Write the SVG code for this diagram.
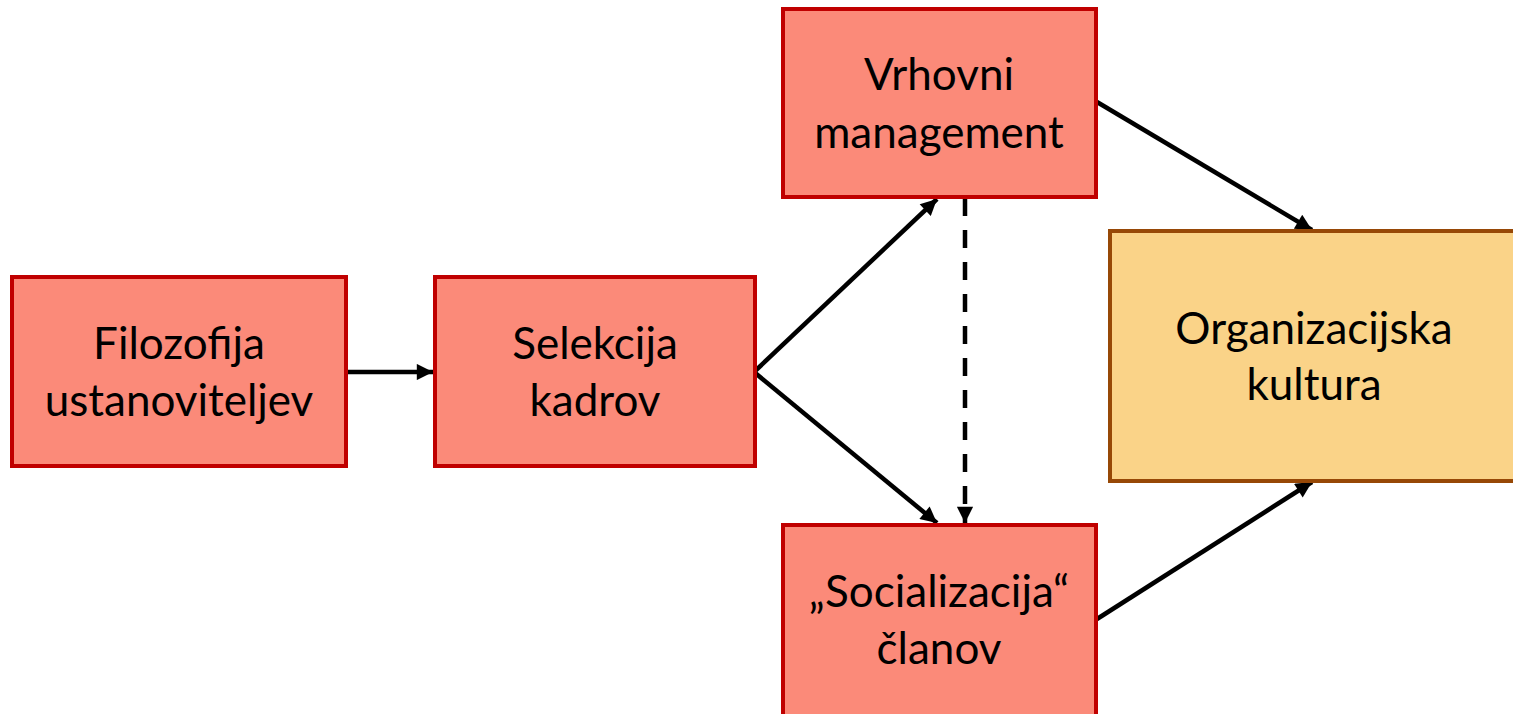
<svg xmlns="http://www.w3.org/2000/svg" width="1513" height="714" viewBox="0 0 1513 714">
<style>
.n{fill:#FB8A79;stroke:#C00000;stroke-width:4}
.o{fill:#FAD388;stroke:#974806;stroke-width:4}
text{font-family:Lato,"Open Sans",sans-serif;font-size:44px;fill:#000;text-anchor:middle}
.c{stroke:#000;stroke-width:4.5;fill:none;marker-end:url(#ah)}
.d{stroke-dasharray:18,14}
</style>
<defs>
<marker id="ah" viewBox="0 0 10 10" refX="10" refY="5" markerWidth="4" markerHeight="3.6" orient="auto" markerUnits="strokeWidth">
<path d="M0,0 L10,5 L0,10 z" fill="#000"/>
</marker>
</defs>
<rect width="1513" height="714" fill="#fff"/>
<g id="connectors">
<line class="c" x1="346" y1="372" x2="433" y2="372"/>
<line class="c" x1="754" y1="372" x2="937" y2="199"/>
<line class="c" x1="754" y1="372" x2="937" y2="523"/>
<line class="c d" x1="965" y1="198" x2="965" y2="523"/>
<line class="c" x1="1097" y1="102" x2="1312" y2="230"/>
<line class="c" x1="1097" y1="619" x2="1312" y2="482"/>
</g>
<g id="filozofija">
<rect class="n" x="12" y="277" width="334" height="189"/>
<text x="179" y="359">Filozofija</text>
<text x="179" y="416">ustanoviteljev</text>
</g>
<g id="selekcija">
<rect class="n" x="435" y="277" width="320" height="189"/>
<text x="595" y="359">Selekcija</text>
<text x="595" y="416">kadrov</text>
</g>
<g id="vrhovni">
<rect class="n" x="783" y="9" width="313" height="188"/>
<text x="939" y="90">Vrhovni</text>
<text x="939" y="148">management</text>
</g>
<g id="socializacija">
<rect class="n" x="783" y="525" width="313" height="195"/>
<text x="939" y="607">„Socializacija“</text>
<text x="939" y="664">članov</text>
</g>
<g id="kultura">
<rect class="o" x="1110" y="231" width="410" height="250"/>
<text x="1314" y="344">Organizacijska</text>
<text x="1314" y="400">kultura</text>
</g>
</svg>
